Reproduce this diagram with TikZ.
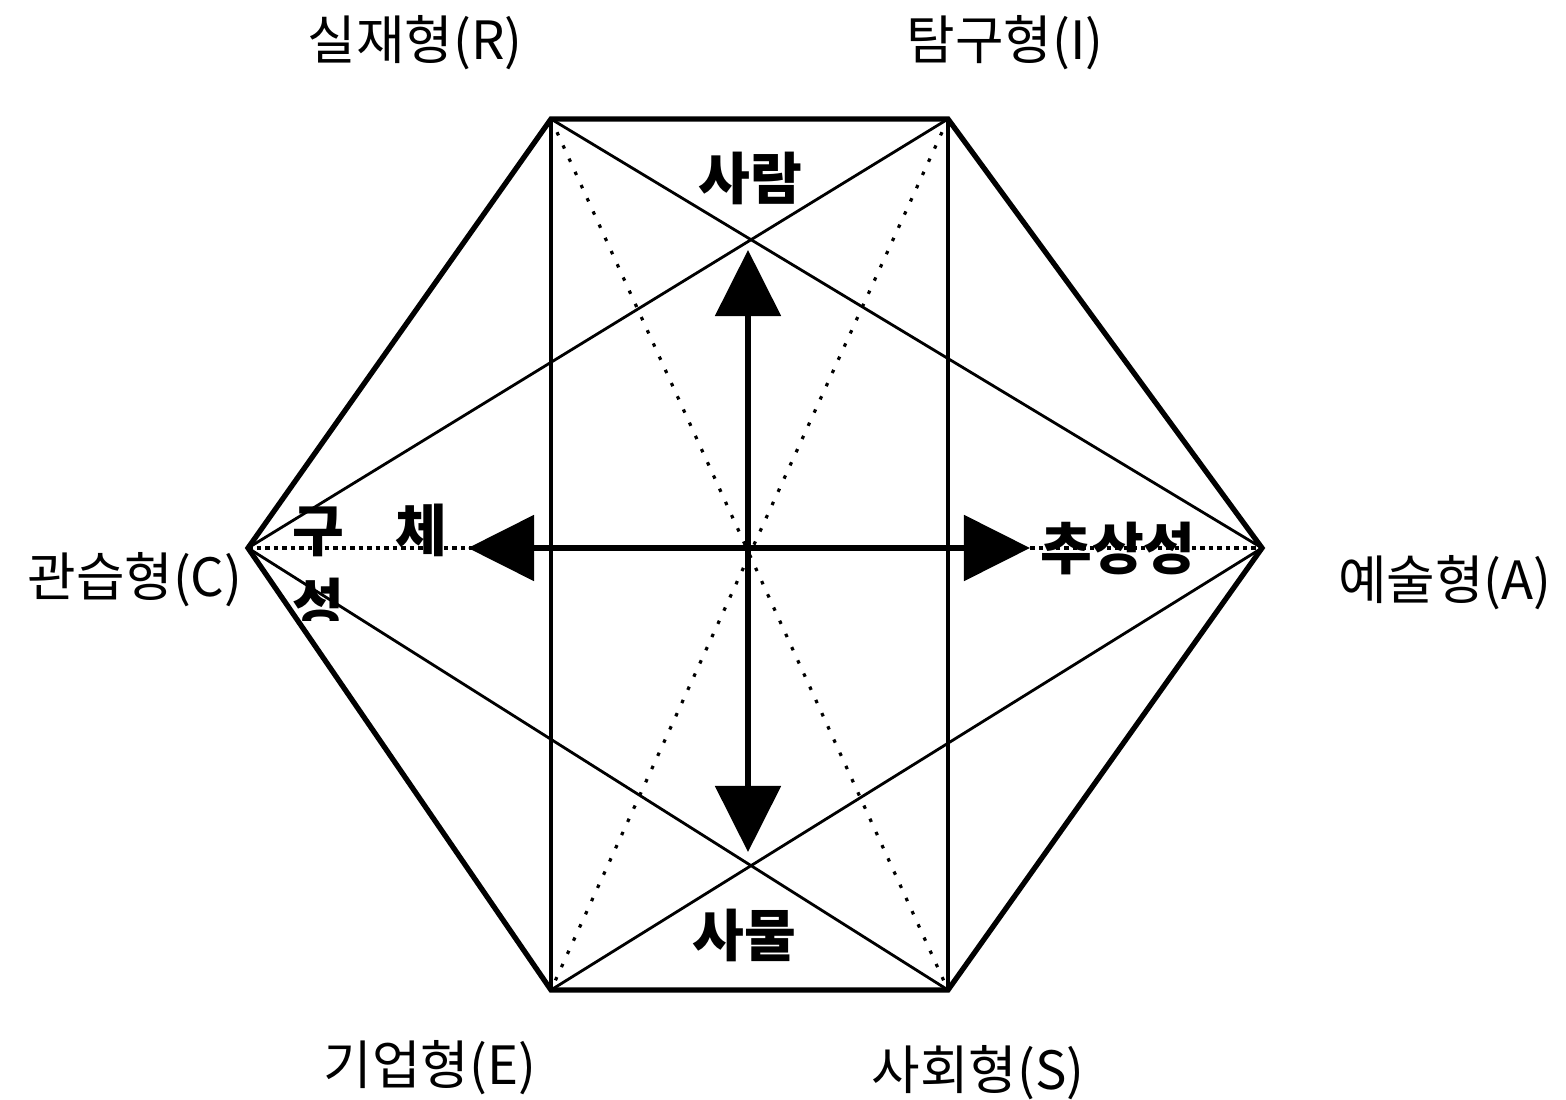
\documentclass[tikz,border=0pt]{standalone}
\usepackage{fontspec}
\newfontfamily\kr{Noto Sans CJK KR}
\usetikzlibrary{arrows.meta}
\begin{document}
\begin{tikzpicture}[x=0.01cm, y=-0.01cm,
    hexedge/.style={line width=1.5pt, line join=miter},
    side/.style={line width=1.1pt},
    diag/.style={line width=0.8pt},
    dotline/.style={line width=0.9pt, dash pattern=on 0.035cm off 0.11cm},
    hdots/.style={line width=1pt, dash pattern=on 0.045cm off 0.04cm},
    bigarrow/.style={line width=1.5pt, {Triangle[length=0.66cm,width=0.65cm]}-{Triangle[length=0.66cm,width=0.65cm]}},
    lab/.style={font=\kr\fontsize{15pt}{18pt}\selectfont, inner sep=0pt},
    key/.style={font=\kr\bfseries\fontsize{16pt}{19pt}\selectfont, inner sep=0pt}]
    \useasboundingbox (0,0) rectangle (1566,1100);

    \coordinate (R) at (551,119);
    \coordinate (I) at (948,119);
    \coordinate (A) at (1262,548);
    \coordinate (S) at (948,990);
    \coordinate (E) at (551,990);
    \coordinate (C) at (248,548);

    \draw[side] (R) -- (E);
    \draw[side] (I) -- (S);
    \draw[dotline] (R) -- (S);
    \draw[dotline] (I) -- (E);
    \draw[diag] (R) -- (A);
    \draw[diag] (I) -- (C);
    \draw[diag] (C) -- (S);
    \draw[diag] (E) -- (A);
    \draw[hdots] (C) -- (A);
    \draw[hexedge] (R) -- (I) -- (A) -- (S) -- (E) -- (C) -- cycle;

    \coordinate (up) at (748,250);
    \coordinate (down) at (748,852);
    \coordinate (left) at (468,548);
    \coordinate (right) at (1030,548);
    \draw[bigarrow] (up) -- (down);
    \draw[bigarrow] (left) -- (right);

    \node[lab] (labR) at (415,43) {실재형(R)};
    \node[lab] (labI) at (1005,43) {탐구형(I)};
    \node[lab] (labC) at (135,580) {관습형(C)};
    \node[lab] (labA) at (1445,583) {예술형(A)};
    \node[lab] (labE) at (430,1068) {기업형(E)};
    \node[lab] (labS) at (978,1073) {사회형(S)};

    \node[key] (people) at (750,178) {사람};
    \node[key] (things) at (744,935) {사물};
    \node[key] (concrete) at (370,530) {구\hspace{0.9em}체};
    \begin{scope}
        \clip (270,575) rectangle (370,620);
        \node[key] (concrete2) at (318,604) {성};
    \end{scope}
    \node[key] (abstract) at (1118,548) {추상성};
\end{tikzpicture}
\end{document}
